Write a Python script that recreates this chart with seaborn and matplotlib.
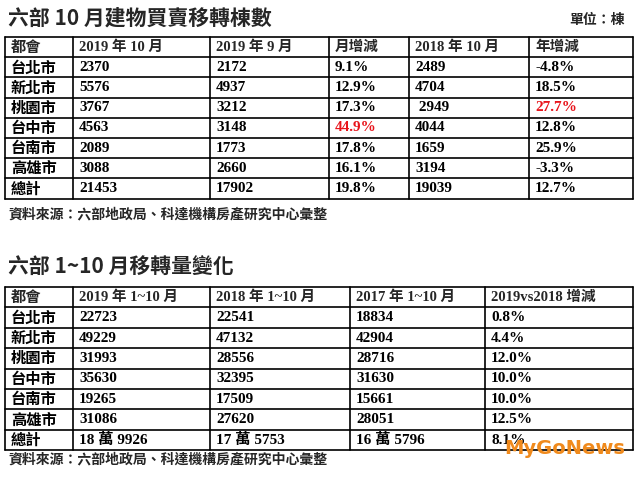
import matplotlib
matplotlib.use("Agg")
import matplotlib.pyplot as plt
import seaborn as sns

sns.set_theme(style="white")
plt.rcParams['font.family'] = ['Noto Sans CJK TC', 'DejaVu Sans']

title1 = "六部 10 月建物買賣移轉棟數"
unit1 = "單位：棟"
header1 = ["都會", "2019 年 10 月", "2019 年 9 月", "月增減", "2018 年 10 月", "年增減"]
cities = ["台北市", "新北市", "桃園市", "台中市", "台南市", "高雄市", "總計"]
oct2019 = ["2370", "5576", "3767", "4563", "2089", "3088", "21453"]
sep2019 = ["2172", "4937", "3212", "3148", "1773", "2660", "17902"]
mom = ["9.1%", "12.9%", "17.3%", "44.9%", "17.8%", "16.1%", "19.8%"]
oct2018 = ["2489", "4704", " 2949", "4044", "1659", "3194", "19039"]
yoy = ["-4.8%", "18.5%", "27.7%", "12.8%", "25.9%", "-3.3%", "12.7%"]
red1 = {(3, 3), (2, 5)}
source = "資料來源：六部地政局、科達機構房產研究中心彙整"

title2 = "六部 1~10 月移轉量變化"
header2 = ["都會", "2019 年 1~10 月", "2018 年 1~10 月", "2017 年 1~10 月", "2019vs2018 增減"]
ytd2019 = ["22723", "49229", "31993", "35630", "19265", "31086", "18 萬 9926"]
ytd2018 = ["22541", "47132", "28556", "32395", "17509", "27620", "17 萬 5753"]
ytd2017 = ["18834", "42904", "28716", "31630", "15661", "28051", "16 萬 5796"]
chg = ["0.8%", "4.4%", "12.0%", "10.0%", "10.0%", "12.5%", "8.1%"]

fig = plt.figure(figsize=(6.4, 4.8), dpi=100)
ax = fig.add_axes([0, 0, 1, 1])
ax.set_xlim(0, 640)
ax.set_ylim(480, 0)
ax.axis("off")

num_font = ['Liberation Serif', 'Noto Sans CJK TC']

def draw_table(cols, top, rowh, header, columns, reds=set()):
    nrows = len(columns[0]) + 1
    bottom = top + rowh * nrows
    for i in range(nrows + 1):
        ax.plot([cols[0], cols[-1]], [top + i * rowh] * 2, color="black", lw=1.2)
    for c in cols:
        ax.plot([c, c], [top, bottom], color="black", lw=1.2)
    for j, h in enumerate(header):
        fam = 'Noto Sans CJK TC' if j == 0 else num_font
        ax.text(cols[j] + 6, top + rowh / 2, h, fontsize=10.5 if j else 11, fontweight="bold",
                family=fam, va="center", ha="left")
    for j, col in enumerate(columns):
        for i, v in enumerate(col):
            fam = 'Noto Sans CJK TC' if j == 0 else num_font
            color = "#e8141b" if (i, j) in reds else "black"
            ax.text(cols[j] + 6, top + rowh * (i + 1.5), v, fontsize=11,
                    fontweight="bold", family=fam,
                    va="center", ha="left", color=color)
    return bottom

ax.text(8, 18, title1, fontsize=15, fontweight="black", va="center", ha="left")
ax.text(625, 20, unit1, fontsize=10, fontweight="bold", va="center", ha="right")
b1 = draw_table([5, 73, 210, 329, 409, 529, 633], 37, 20.2, header1,
                [cities, oct2019, sep2019, mom, oct2018, yoy], red1)
ax.text(8, b1 + 16, source, fontsize=10, fontweight="bold", va="center", ha="left")

ax.text(8, 266, title2, fontsize=15, fontweight="black", va="center", ha="left")
b2 = draw_table([5, 73, 210, 350, 485, 633], 287, 20.4, header2,
                [cities, ytd2019, ytd2018, ytd2017, chg])
ax.text(8, b2 + 9, source, fontsize=10, fontweight="bold", va="center", ha="left")

ax.text(625, 449, "MyGoNews", fontsize=14, fontweight="bold", color="#f08a1c",
        va="center", ha="right", family=['DejaVu Sans'])

fig.savefig("out.png", dpi=100)
